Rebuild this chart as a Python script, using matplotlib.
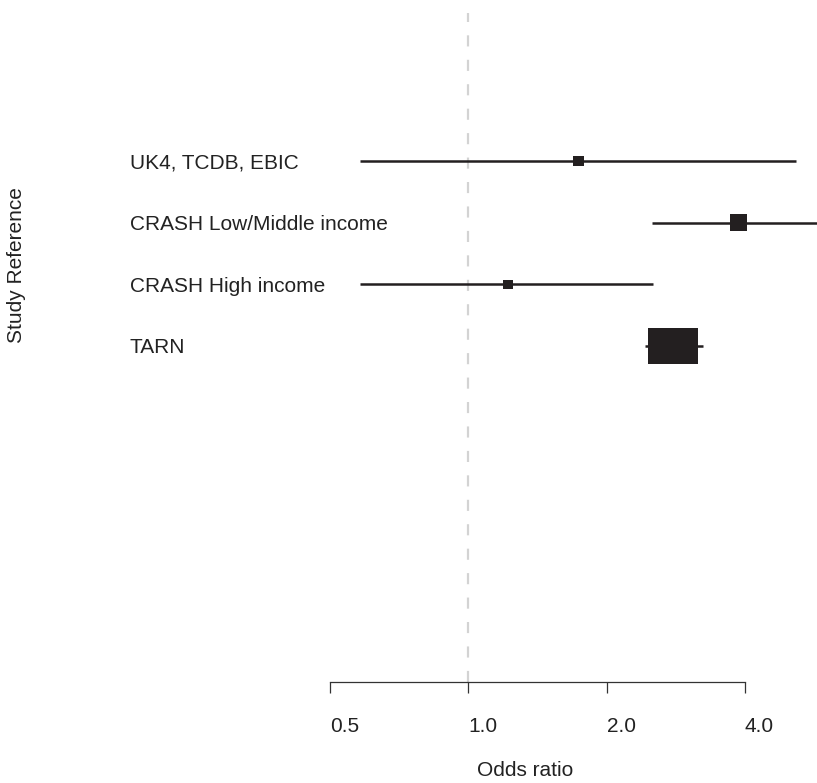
import numpy as np
import matplotlib
matplotlib.use('Agg')
from matplotlib import pyplot as plt
from matplotlib.patches import Rectangle
from matplotlib.transforms import blended_transform_factory

plt.rcParams['font.family'] = ['Liberation Sans', 'DejaVu Sans']

# study data (odds ratio with 95% CI)
studies = ['UK4, TCDB, EBIC', 'CRASH Low/Middle income', 'CRASH High income', 'TARN']
odds = [1.74, 3.87, 1.22, 2.79]
lower = [0.58, 2.51, 0.58, 2.42]
upper = [5.17, 6.50, 2.52, 3.24]
# box size (width in log2 units, height in row units) ~ study weight
box_w = [0.08, 0.12, 0.07, 0.355]
box_h = [0.15, 0.27, 0.15, 0.57]
ticks = [0.5, 1.0, 2.0, 4.0]
tick_labels = ['0.5', '1.0', '2.0', '4.0']

W, H = 817, 783
fig = plt.figure(figsize=(W / 100, H / 100), dpi=100)
ax = fig.add_axes([330 / W, 1 - 682 / H, (W - 330) / W, (682 - 13) / H])
ax.set_xscale('log', base=2)
ax.set_xlim(0.5, 2 ** ((817 - 469) / 138))
ax.set_ylim(-4.45, 6.4)

ink = '#231f20'
txt = '#222222'
ax.axvline(1.0, color='#d3d3d3', lw=1.6, ls=(0, (5, 6)), zorder=0)

lab_tr = blended_transform_factory(fig.transFigure, ax.transData)
ypos = np.arange(len(studies), 0, -1)
for y, name, o, lo, hi, bw, bh in zip(ypos, studies, odds, lower, upper, box_w, box_h):
    ax.plot([lo, hi], [y, y], color=ink, lw=1.8, solid_capstyle='butt')
    x0 = o * 2 ** (-bw / 2)
    x1 = o * 2 ** (bw / 2)
    ax.add_patch(Rectangle((x0, y - bh / 2), x1 - x0, bh, color=ink, lw=0))
    ax.text(130 / W, y - 0.03, name, transform=lab_tr,
            ha='left', va='center', fontsize=15, color=txt)

for s in ['top', 'right', 'left']:
    ax.spines[s].set_visible(False)
ax.spines['bottom'].set_bounds(0.5, 4.0)
ax.spines['bottom'].set_linewidth(0.9)
ax.spines['bottom'].set_color('#333333')
ax.set_yticks([])
ax.set_xticks(ticks)
ax.set_xticklabels(tick_labels, ha='left')
ax.xaxis.set_minor_locator(matplotlib.ticker.NullLocator())
ax.tick_params(axis='x', length=8, width=0.9, color='#333333', pad=17, labelsize=15, labelcolor=txt)

fig.text(525 / W, 1 - 771 / H, 'Odds ratio', ha='center', va='center', fontsize=15, color=txt)
fig.text(17 / W, 1 - 265 / H, 'Study Reference', rotation=90, ha='center', va='center',
         fontsize=15, color=txt)

fig.savefig('out.png', dpi=100)
